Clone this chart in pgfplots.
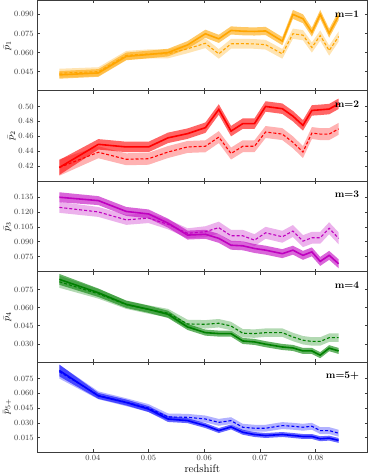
\documentclass[border=0pt]{standalone}
\usepackage{pgfplots}
\pgfplotsset{compat=1.18}
\usepgfplotslibrary{groupplots,fillbetween}
\usepackage{pgfplotstable}

\definecolor{c1}{HTML}{FFA500}
\definecolor{c2}{HTML}{FF0000}
\definecolor{c3}{HTML}{BF00BF}
\definecolor{c4}{HTML}{008000}
\definecolor{c5}{HTML}{0000FF}
\definecolor{axgray}{HTML}{3C3C3C}

% columns: redshift, solid value, solid half-width, dashed value, dashed half-width
\pgfplotstableread{
x s es d ed
0.034 0.0425 0.0030 0.0438 0.0035
0.041 0.0440 0.0030 0.0450 0.0035
0.046 0.0570 0.0030 0.0578 0.0035
0.050 0.0585 0.0030 0.0590 0.0035
0.0535 0.0600 0.0030 0.0590 0.0035
0.057 0.0660 0.0030 0.0630 0.0035
0.0602 0.0748 0.0032 0.0673 0.0038
0.0626 0.0708 0.0032 0.0590 0.0038
0.0648 0.0774 0.0032 0.0669 0.0038
0.0669 0.0768 0.0032 0.0670 0.0038
0.069 0.0766 0.0032 0.0668 0.0038
0.071 0.0770 0.0032 0.0662 0.0038
0.074 0.0690 0.0032 0.0590 0.0038
0.0759 0.0900 0.0035 0.0748 0.0040
0.0777 0.0866 0.0035 0.0737 0.0040
0.0793 0.0760 0.0035 0.0640 0.0040
0.0808 0.0900 0.0035 0.0734 0.0040
0.0824 0.0752 0.0035 0.0616 0.0040
0.0841 0.0890 0.0035 0.0726 0.0040
}\mone

\pgfplotstableread{
x s es d ed
0.034 0.4183 0.0100 0.4183 0.0110
0.041 0.4493 0.0070 0.4387 0.0080
0.046 0.4458 0.0070 0.4293 0.0080
0.050 0.4458 0.0070 0.4300 0.0080
0.0535 0.4580 0.0070 0.4390 0.0080
0.057 0.4636 0.0070 0.4458 0.0080
0.0602 0.4716 0.0070 0.4467 0.0080
0.0626 0.4960 0.0070 0.4590 0.0080
0.0648 0.4670 0.0070 0.4370 0.0080
0.0669 0.4770 0.0070 0.4467 0.0080
0.069 0.4770 0.0070 0.4467 0.0080
0.071 0.5000 0.0070 0.4658 0.0080
0.074 0.4970 0.0070 0.4630 0.0080
0.0759 0.4870 0.0070 0.4520 0.0080
0.0777 0.4747 0.0070 0.4390 0.0080
0.0793 0.4947 0.0070 0.4644 0.0080
0.0808 0.4955 0.0070 0.4630 0.0080
0.0824 0.4965 0.0070 0.4630 0.0080
0.0841 0.5036 0.0070 0.4700 0.0080
}\mtwo

\pgfplotstableread{
x s es d ed
0.034 0.1348 0.0050 0.1246 0.0055
0.041 0.1314 0.0045 0.1200 0.0050
0.046 0.1205 0.0045 0.1120 0.0050
0.050 0.1180 0.0045 0.1138 0.0050
0.0535 0.1087 0.0045 0.1075 0.0050
0.057 0.0967 0.0045 0.0985 0.0050
0.0602 0.0975 0.0045 0.1001 0.0055
0.0626 0.0934 0.0045 0.1042 0.0060
0.0648 0.0865 0.0045 0.0960 0.0060
0.0669 0.0859 0.0045 0.0960 0.0060
0.069 0.0832 0.0045 0.0916 0.0060
0.071 0.0815 0.0045 0.0990 0.0060
0.074 0.0780 0.0045 0.0950 0.0060
0.0759 0.0815 0.0045 0.1008 0.0060
0.0777 0.0763 0.0045 0.0906 0.0060
0.0793 0.0798 0.0045 0.0940 0.0060
0.0808 0.0702 0.0045 0.0940 0.0060
0.0824 0.0763 0.0045 0.1036 0.0060
0.0841 0.0678 0.0045 0.0934 0.0060
}\mthree

\pgfplotstableread{
x s es d ed
0.034 0.0835 0.0045 0.0815 0.0050
0.041 0.0724 0.0035 0.0715 0.0040
0.046 0.0628 0.0030 0.0625 0.0035
0.050 0.0587 0.0030 0.0585 0.0035
0.0535 0.0545 0.0030 0.0555 0.0035
0.057 0.0440 0.0025 0.0465 0.0035
0.0602 0.0393 0.0025 0.0462 0.0035
0.0626 0.0385 0.0025 0.0471 0.0035
0.0648 0.0385 0.0025 0.0448 0.0035
0.0669 0.0324 0.0025 0.0388 0.0035
0.069 0.0316 0.0025 0.0385 0.0035
0.071 0.0297 0.0025 0.0393 0.0035
0.074 0.0274 0.0025 0.0393 0.0035
0.0759 0.0266 0.0025 0.0357 0.0035
0.0777 0.0241 0.0025 0.0330 0.0035
0.0793 0.0241 0.0025 0.0320 0.0035
0.0808 0.0206 0.0025 0.0320 0.0035
0.0824 0.0264 0.0025 0.0351 0.0035
0.0841 0.0241 0.0025 0.0351 0.0035
}\mfour

\pgfplotstableread{
x s es d ed
0.034 0.0833 0.0060 0.0820 0.0070
0.041 0.0574 0.0030 0.0580 0.0040
0.046 0.0507 0.0030 0.0510 0.0040
0.050 0.0440 0.0030 0.0450 0.0040
0.0535 0.0339 0.0030 0.0360 0.0035
0.057 0.0322 0.0025 0.0356 0.0035
0.0602 0.0272 0.0025 0.0339 0.0035
0.0626 0.0221 0.0025 0.0305 0.0035
0.0648 0.0258 0.0025 0.0322 0.0035
0.0669 0.0204 0.0025 0.0255 0.0035
0.069 0.0181 0.0025 0.0245 0.0035
0.071 0.0171 0.0025 0.0245 0.0035
0.074 0.0181 0.0025 0.0272 0.0035
0.0759 0.0171 0.0025 0.0265 0.0035
0.0777 0.0161 0.0025 0.0255 0.0035
0.0793 0.0161 0.0025 0.0265 0.0035
0.0808 0.0138 0.0025 0.0221 0.0035
0.0824 0.0144 0.0025 0.0221 0.0035
0.0841 0.0121 0.0025 0.0194 0.0035
}\mfive

% bands + lines for one panel: #1 table, #2 colour index
\newcommand{\bands}[2]{%
  \addplot[draw=none, name path=su#2] table[x=x, y expr=\thisrow{s}+\thisrow{es}] {#1};
  \addplot[draw=none, name path=sl#2] table[x=x, y expr=\thisrow{s}-\thisrow{es}] {#1};
  \addplot[draw=none, name path=du#2] table[x=x, y expr=\thisrow{d}+\thisrow{ed}] {#1};
  \addplot[draw=none, name path=dl#2] table[x=x, y expr=\thisrow{d}-\thisrow{ed}] {#1};
  \addplot[fill=c#2, fill opacity=0.3, draw=none] fill between[of=du#2 and dl#2];
  \addplot[fill=c#2, fill opacity=0.6, draw=none] fill between[of=su#2 and sl#2];
  \addplot[c#2, line width=1.1pt, dash pattern=on 3pt off 2pt] table[x=x, y=d] {#1};
  \addplot[c#2, line width=1.6pt] table[x=x, y=s] {#1};
}

\begin{document}
\begin{tikzpicture}
\begin{groupplot}[
  group style={group size=1 by 5, vertical sep=0pt,
    xticklabels at=edge bottom, xlabels at=edge bottom},
  width=331pt, height=90.5pt, scale only axis,
  xmin=0.030, xmax=0.0893,
  xtick={0.04,0.05,0.06,0.07,0.08},
  scaled ticks=false,
  xticklabel style={/pgf/number format/.cd, fixed, precision=2},
  yticklabel style={/pgf/number format/.cd, fixed, fixed zerofill, precision=3},
  tick align=inside, tick pos=both, major tick length=3pt,
  axis line style={axgray, line width=0.8pt},
  every tick/.style={axgray, line width=0.6pt},
  tick label style={font=\fontsize{8.5}{10}\selectfont, text=axgray},
  label style={font=\fontsize{10}{12}\selectfont},
  xlabel={redshift},
  xlabel style={yshift=3pt, font=\fontsize{11}{13}\selectfont},
  ylabel style={yshift=-4pt},
]
\nextgroupplot[ymin=0.030, ymax=0.101, ytick={0.045,0.060,0.075,0.090}, ylabel={$\bar{p}_1$}]
\bands{\mone}{1}
\node[anchor=east, font=\bfseries] at (rel axis cs:0.985,0.85) {m=1};

\nextgroupplot[ymin=0.400, ymax=0.521, ytick={0.42,0.44,0.46,0.48,0.50}, ylabel={$\bar{p}_2$},
  yticklabel style={/pgf/number format/.cd, fixed, fixed zerofill, precision=2}]
\bands{\mtwo}{2}
\node[anchor=east, font=\bfseries] at (rel axis cs:0.985,0.85) {m=2};

\nextgroupplot[ymin=0.060, ymax=0.151, ytick={0.075,0.090,0.105,0.120,0.135}, ylabel={$\bar{p}_3$}]
\bands{\mthree}{3}
\node[anchor=east, font=\bfseries] at (rel axis cs:0.985,0.85) {m=3};

\nextgroupplot[ymin=0.015, ymax=0.090, ytick={0.030,0.045,0.060,0.075}, ylabel={$\bar{p}_4$}]
\bands{\mfour}{4}
\node[anchor=east, font=\bfseries] at (rel axis cs:0.985,0.85) {m=4};

\nextgroupplot[ymin=0.0, ymax=0.092, ytick={0.015,0.030,0.045,0.060,0.075}, ylabel={$\bar{p}_{5+}$}]
\bands{\mfive}{5}
\node[anchor=east, font=\bfseries] at (rel axis cs:0.985,0.85) {m=5+};
\end{groupplot}
\path ([xshift=4pt]group c1r5.south east);
\end{tikzpicture}
\end{document}
